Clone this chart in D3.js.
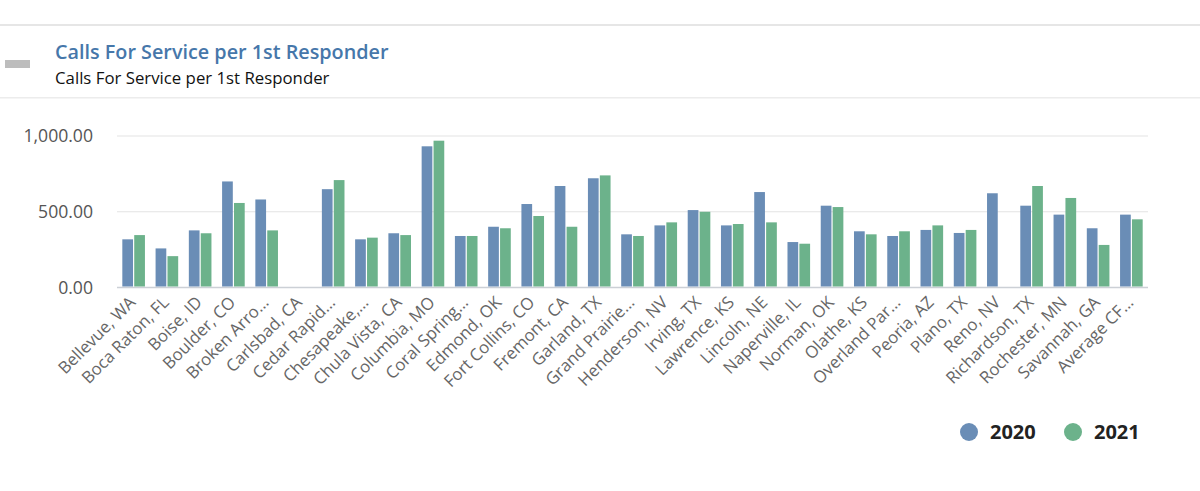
<!DOCTYPE html>
<html>
<head>
<meta charset="utf-8">
<script src="https://cdn.jsdelivr.net/npm/d3@7"></script>
<style>
  body { margin: 0; background: #fff; }
  svg { display: block; font-family: "Open Sans", sans-serif; }
</style>
</head>
<body>
<svg id="chart" width="1200" height="491"></svg>
<script>
// values
const cities = [
  "Bellevue, WA", "Boca Raton, FL", "Boise, ID", "Boulder, CO", "Broken Arro…",
  "Carlsbad, CA", "Cedar Rapid…", "Chesapeake,…", "Chula Vista, CA", "Columbia, MO",
  "Coral Spring…", "Edmond, OK", "Fort Collins, CO", "Fremont, CA", "Garland, TX",
  "Grand Prairie…", "Henderson, NV", "Irving, TX", "Lawrence, KS", "Lincoln, NE",
  "Naperville, IL", "Norman, OK", "Olathe, KS", "Overland Par…", "Peoria, AZ",
  "Plano, TX", "Reno, NV", "Richardson, TX", "Rochester, MN", "Savannah, GA",
  "Average CF…"
];
const values2020 = [318, 258, 377, 700, 581, null, 649, 318, 358, 932,
  340, 401, 551, 670, 721, 351, 410, 511, 410, 630,
  300, 540, 371, 340, 380, 360, 622, 540, 481, 391, 481];
const values2021 = [346, 207, 358, 558, 377, null, 709, 329, 346, 969,
  340, 391, 472, 401, 740, 340, 430, 500, 419, 430,
  289, 531, 351, 371, 410, 380, null, 670, 591, 281, 450];
const seriesNames = ["2020", "2021"];
const yTicks = [0, 500, 1000];

const colors = { "2020": "#6a8db6", "2021": "#6cb28b" };

const svg = d3.select("#chart");

// header
svg.append("rect").attr("x", 0).attr("y", 24).attr("width", 1200).attr("height", 2).attr("fill", "#e6e6e6");
svg.append("rect").attr("x", 0).attr("y", 97).attr("width", 1200).attr("height", 1.5).attr("fill", "#ececec");
svg.append("rect").attr("x", 5).attr("y", 60).attr("width", 25).attr("height", 8).attr("fill", "#bdbdbd");
svg.append("text").attr("x", 55).attr("y", 59)
  .attr("font-size", 19.8).attr("font-weight", 600).attr("fill", "#4677aa")
  .text("Calls For Service per 1st Responder");
svg.append("text").attr("x", 55).attr("y", 84)
  .attr("font-size", 16.8).attr("fill", "#111")
  .text("Calls For Service per 1st Responder");

const margin = { left: 117, right: 52 };
const width = 1200 - margin.left - margin.right;
const plotBottom = 287.5;

const x = d3.scaleBand().domain(cities).range([margin.left, margin.left + width])
  .paddingInner(0.32).paddingOuter(0.16);
const xs = d3.scaleBand().domain(seriesNames).range([0, x.bandwidth()]).paddingInner(0.1);
const y = d3.scaleLinear().domain([0, 1000]).range([plotBottom, 136]);

// grid
svg.append("g").selectAll("line").data(yTicks).join("line")
  .attr("x1", margin.left).attr("x2", margin.left + width)
  .attr("y1", (d) => y(d)).attr("y2", (d) => y(d))
  .attr("stroke", (d) => (d === 0 ? "#ccd0d6" : "#e3e3e3"))
  .attr("stroke-width", (d) => (d === 0 ? 1.5 : 1));

svg.append("g").selectAll("text").data(yTicks).join("text")
  .attr("x", 93).attr("y", (d) => y(d) + 6)
  .attr("text-anchor", "end").attr("font-size", 17.6).attr("fill", "#555")
  .text((d) => d3.format(",.2f")(d));

// bars
const rows = cities.map((c, i) => ({ city: c, vals: [values2020[i], values2021[i]] }));
const group = svg.append("g").selectAll("g").data(rows).join("g")
  .attr("transform", (d) => `translate(${x(d.city)},0)`);
group.selectAll("rect")
  .data((d) => d.vals.map((v, k) => ({ key: seriesNames[k], v })).filter((e) => e.v != null))
  .join("rect")
  .attr("x", (d) => xs(d.key))
  .attr("width", xs.bandwidth())
  .attr("y", (d) => y(d.v))
  .attr("height", (d) => y(0) - y(d.v) - 1)
  .attr("fill", (d) => colors[d.key]);

// x labels
svg.append("g").selectAll("text").data(cities).join("text")
  .attr("transform", (d) => `translate(${x(d) + x.bandwidth() / 2 + 3},${plotBottom + 16}) rotate(-45)`)
  .attr("text-anchor", "end").attr("font-size", 16.8).attr("fill", "#666")
  .text((d) => d);

// legend
const legend = svg.append("g").selectAll("g").data(seriesNames).join("g")
  .attr("transform", (d, i) => `translate(${969 + i * 104},432)`);
legend.append("circle").attr("r", 9).attr("fill", (d) => colors[d]);
legend.append("text").attr("x", 21).attr("y", 7)
  .attr("font-size", 20).attr("font-weight", 700).attr("fill", "#222")
  .text((d) => d);
</script>
</body>
</html>
